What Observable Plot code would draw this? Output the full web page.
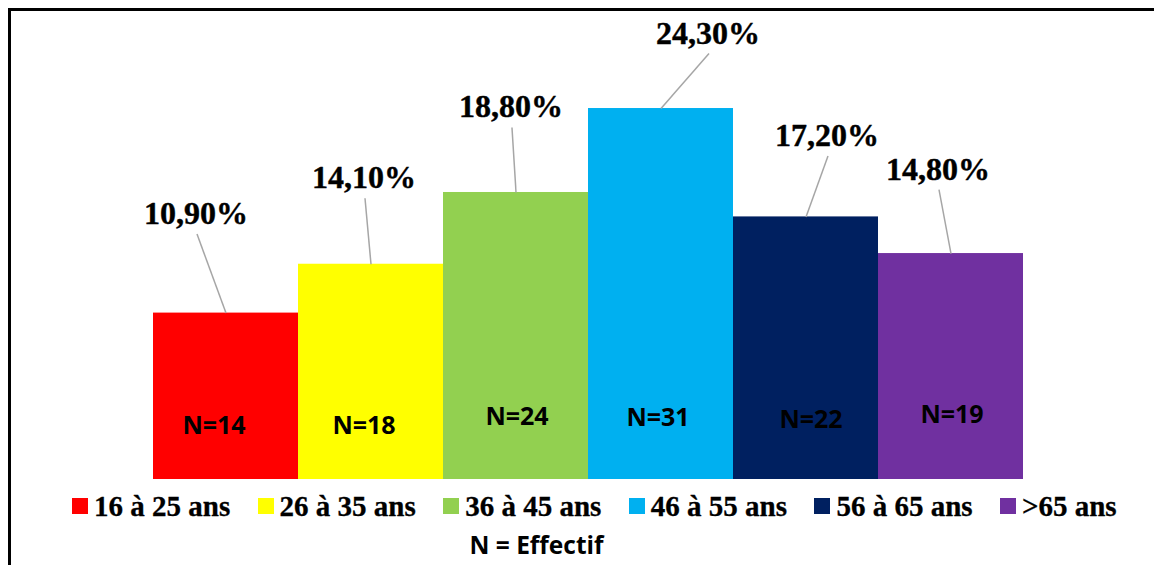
<!DOCTYPE html>
<html><head><meta charset="utf-8">
<script src="https://cdn.jsdelivr.net/npm/d3@7"></script>
<script src="https://cdn.jsdelivr.net/npm/@observablehq/plot@0.6"></script>
<style>
body{margin:0;background:#fff;width:1154px;height:565px;overflow:hidden;position:relative}
#chart{position:absolute;left:0;top:0}
#frame{position:absolute;left:8px;top:8px;width:1146px;height:557px;border-top:3px solid #000;border-left:3px solid #000;box-sizing:border-box;pointer-events:none}
#legend{position:absolute;left:72px;top:492px;height:28px;display:flex;align-items:center}
.item{width:185.6px;display:flex;align-items:center;font-family:"Times New Roman","Liberation Serif",serif;font-weight:bold;font-size:29px;line-height:1;white-space:nowrap;color:#000;-webkit-text-stroke:0.3px #000}
.sw{width:16px;height:16px;margin-right:6px;flex:none}
#caption{position:absolute;left:0;width:1073px;top:533px;text-align:center;font-family:"Open Sans",sans-serif;font-weight:bold;font-size:24.5px;line-height:1;color:#000}
</style></head><body>
<div id="chart"></div>
<div id="frame"></div>
<div id="legend"></div>
<div id="caption">N = Effectif</div>
<script>
const categories = ["16 à 25 ans","26 à 35 ans","36 à 45 ans","46 à 55 ans","56 à 65 ans",">65 ans"];
const percentages = [10.9, 14.1, 18.8, 24.3, 17.2, 14.8];
const effectifs = [14, 18, 24, 31, 22, 19];
const colors = ["#FF0000","#FFFF00","#92D050","#00B0F0","#002060","#7030A0"];

// layout nudges for labels (pixels), kept apart from the data
const pctLabelNudge = [[-30,-89],[-7,-76],[-5,-75],[47,-65],[21,-71],[-13,-74]];
const nLabelNudge = [[-12,-46],[-7,-46],[1,-55],[-3,-54],[5,-52],[1,-57]];

const data = categories.map((cat, i) => ({cat, pct: percentages[i], n: effectifs[i]}));
const fmtPct = v => v.toFixed(2).replace(".", ",") + "%";

const pctFont = 32, nFont = 25;

const marks = [
  Plot.barY(data, {x: "cat", y: "pct", fill: "cat"}),
  Plot.link(data, {
    x1: "cat", x2: "cat", y1: "pct", y2: "pct",
    stroke: "#a6a6a6", strokeWidth: 1.5,
    render(index, scales, values, dimensions, context, next) {
      const x2 = Array.from(values.x2, (x, i) => x + pctLabelNudge[i][0] + 1);
      const y2 = Array.from(values.y2, (y, i) => y + pctLabelNudge[i][1] + 10);
      return next(index, scales, {...values, x2, y2}, dimensions, context);
    }
  })
];
data.forEach((d, i) => {
  marks.push(Plot.text([d], {
    x: "cat", y: "pct", text: d => fmtPct(d.pct),
    dx: pctLabelNudge[i][0], dy: pctLabelNudge[i][1] - 0.32 * pctFont,
    fontFamily: "Times New Roman, Liberation Serif, serif", fontWeight: "bold", fontSize: pctFont,
    fill: "#000", stroke: "#000", strokeWidth: 0.4
  }));
  marks.push(Plot.text([d], {
    x: "cat", y: () => 0, text: d => "N=" + d.n,
    dx: nLabelNudge[i][0], dy: nLabelNudge[i][1] - 0.32 * nFont,
    fontFamily: "Open Sans", fontWeight: "bold", fontSize: nFont, fill: "#000"
  }));
});

const chart = Plot.plot({
  width: 1154, height: 490,
  marginLeft: 152, marginRight: 131, marginTop: 21, marginBottom: 11,
  style: {background: "transparent", overflow: "visible"},
  x: {domain: categories, padding: 0, axis: null},
  y: {domain: [0, 30], axis: null},
  color: {domain: categories, range: colors},
  marks
});
document.getElementById("chart").appendChild(chart);

const legend = document.getElementById("legend");
categories.forEach((c, i) => {
  const it = document.createElement("div");
  it.className = "item";
  const sw = document.createElement("span");
  sw.className = "sw";
  sw.style.background = colors[i];
  const t = document.createElement("span");
  t.textContent = c;
  it.appendChild(sw); it.appendChild(t);
  legend.appendChild(it);
});
</script>
</body></html>
